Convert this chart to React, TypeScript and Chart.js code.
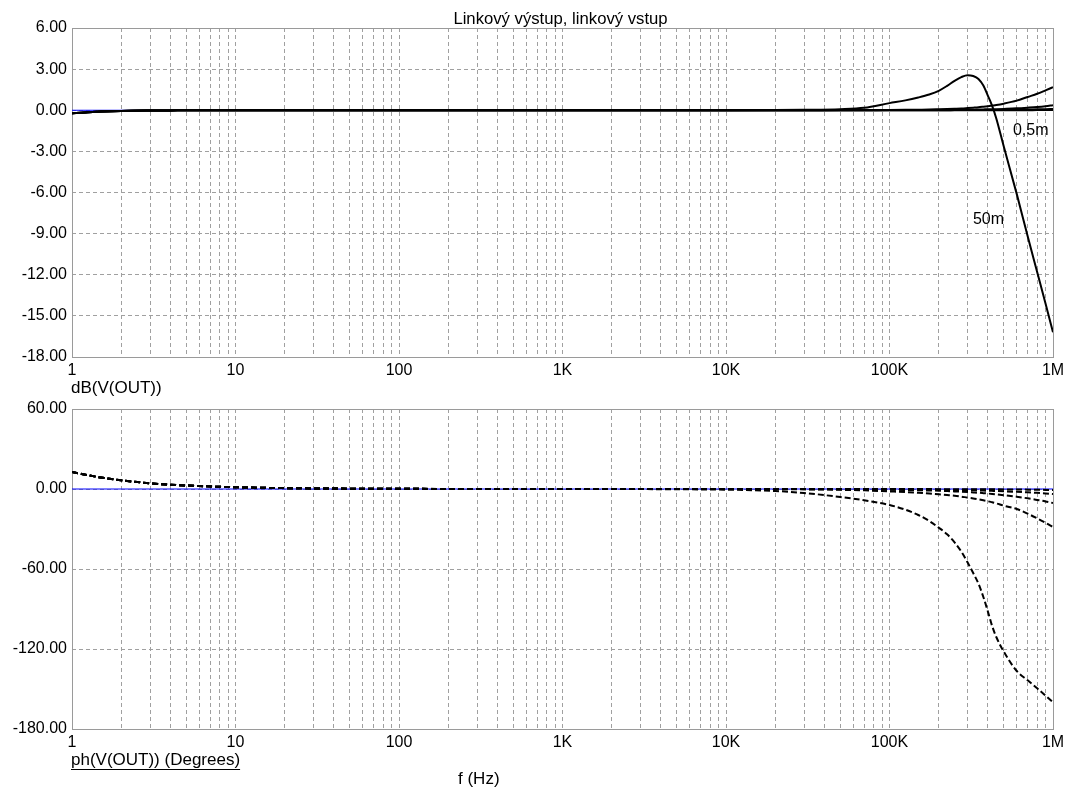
import React, { useEffect, useRef } from 'react';
import { Chart, registerables } from 'chart.js';

Chart.register(...registerables);

// ---------------- data ----------------
const FREQ = [1, 1.5, 2, 3, 4, 6, 10, 20, 50, 100, 1000,
  10000, 20000, 30000, 50000, 70000, 100000, 125000, 150000, 175000, 200000, 225000, 250000, 275000,
  300000, 325000, 350000, 375000, 400000, 425000, 450000, 500000, 600000, 700000, 800000, 900000, 1000000];

// magnitude, dB
const DB_A = [-0.22, -0.1, -0.05, -0.02, -0.01, 0, 0, 0, 0, 0, 0,
  0, 0, 0, 0, 0, 0, 0, 0, 0, 0, 0, 0, 0, 0, 0, 0, 0, 0, 0, 0, 0, 0, 0, 0.01, 0.01, 0.01];
const DB_B = [-0.22, -0.1, -0.05, -0.02, -0.01, 0, 0, 0, 0, 0, 0,
  0, 0, 0, 0, 0, 0, 0, 0, 0, 0, 0, 0.01, 0.01, 0.01, 0.01, 0.01, 0.02, 0.02, 0.02, 0.02, 0.03, 0.04, 0.05, 0.07, 0.08, 0.1];
const DB_C = [-0.22, -0.1, -0.05, -0.02, -0.01, 0, 0, 0, 0, 0, 0,
  0, 0, 0, 0, 0, 0.01, 0.01, 0.01, 0.02, 0.02, 0.02, 0.03, 0.03, 0.04, 0.04, 0.05, 0.06, 0.07, 0.07, 0.08, 0.1, 0.14, 0.19, 0.24, 0.3, 0.37];
const DB_D = [-0.22, -0.1, -0.05, -0.02, -0.01, 0, 0, 0, 0, 0, 0,
  0, 0, 0, 0.01, 0.01, 0.02, 0.03, 0.04, 0.05, 0.07, 0.09, 0.11, 0.13, 0.16, 0.19, 0.22, 0.26, 0.3, 0.34, 0.38, 0.48, 0.7, 0.97, 1.2, 1.45, 1.68];
const DB_E = [-0.22, -0.1, -0.05, -0.02, -0.01, 0, 0, 0, 0, 0, 0,
  0, 0.01, 0.03, 0.08, 0.18, 0.52, 0.72, 0.93, 1.15, 1.42, 1.78, 2.15, 2.42, 2.56, 2.5, 2.28, 1.8, 1.05, 0.3, -0.6, -2.65, -6.1, -9.2, -11.8, -14.1, -16.2];

// phase, degrees
const PH_A = [12.75, 8.6, 6.5, 4.3, 3.2, 2.2, 1.3, 0.65, 0.26, 0.13, 0.01,
  0, 0, 0, 0, 0, -0.05, -0.06, -0.07, -0.08, -0.1, -0.11, -0.12, -0.13, -0.15, -0.16, -0.18, -0.2, -0.22, -0.24, -0.26, -0.3, -0.38, -0.47, -0.57, -0.68, -0.8];
const PH_B = [12.75, 8.6, 6.5, 4.3, 3.2, 2.2, 1.3, 0.65, 0.26, 0.13, 0.01,
  0, 0, -0.05, -0.1, -0.2, -0.3, -0.38, -0.45, -0.52, -0.6, -0.68, -0.75, -0.82, -0.9, -1.0, -1.1, -1.2, -1.3, -1.4, -1.5, -1.7, -2.1, -2.5, -2.9, -3.3, -3.8];
const PH_C = [12.75, 8.6, 6.5, 4.3, 3.2, 2.2, 1.3, 0.65, 0.26, 0.13, 0.01,
  0, -0.05, -0.1, -0.2, -0.35, -0.5, -0.7, -0.9, -1.1, -1.3, -1.55, -1.8, -2.05, -2.3, -2.55, -2.8, -3.1, -3.4, -3.7, -4.0, -4.6, -5.8, -7.0, -8.2, -9.3, -10.5];
const PH_D = [12.75, 8.6, 6.5, 4.3, 3.2, 2.2, 1.3, 0.65, 0.26, 0.13, 0.01,
  -0.05, -0.15, -0.25, -0.6, -1.0, -1.8, -2.3, -2.8, -3.4, -4.0, -4.5, -5.0, -5.7, -6.5, -7.1, -7.8, -8.5, -9.2, -10.0, -10.8, -12.5, -15.0, -18.5, -22.0, -25.3, -28.5];
const PH_E = [12.75, 8.6, 6.5, 4.3, 3.2, 2.2, 1.3, 0.65, 0.26, 0.13, 0.01,
  -0.5, -1.5, -3.0, -6.0, -8.5, -12.0, -15.5, -19.5, -24.0, -29.0, -34.0, -40.0, -47.0, -55.0, -63.0, -71.0, -81.0, -92.0, -103.0, -111.0, -122.0, -136.5, -143.5, -149.5, -155.0, -160.0];

// reference (blue) trace
const REF_FREQ = [1, 1000000];
const REF_DB = [0, 0];
const REF_PH = [0, 0];

// axes
const X_DECADES = [1, 10, 100, 1000, 10000, 100000, 1000000];
const X_TICK_LABELS = ['1', '10', '100', '1K', '10K', '100K', '1M'];
const X_MINOR = [1, 2, 3, 4, 5, 6, 7, 8, 9];
const DB_MIN = -18, DB_MAX = 6, DB_STEP = 3;
const PH_MIN = -180, PH_MAX = 60, PH_STEP = 60;

// texts
const TITLE = 'Linkový výstup, linkový vstup';
const DB_AXIS_TITLE = 'dB(V(OUT))';
const PH_AXIS_TITLE = 'ph(V(OUT)) (Degrees)';
const X_AXIS_TITLE = 'f (Hz)';
const NOTE_TEXT = ['0,5m', '50m'];
const NOTE_F = [569000, 324000];
const NOTE_DB = [-1.83, -8.27];

// ---------------- helpers ----------------
const FONT_FAMILY = '"Liberation Sans", Arial, Helvetica, sans-serif';
const FONT = `16px ${FONT_FAMILY}`;
const TITLE_FONT = `16.7px ${FONT_FAMILY}`;
const AXIS_TITLE_FONT = `17px ${FONT_FAMILY}`;
const GRID_COLOR = '#a0a0a0';
const FRAME_COLOR = '#9a9a9a';

const xGrid: number[] = [];
X_DECADES.forEach((d, i) => {
  if (i === X_DECADES.length - 1) { xGrid.push(d); return; }
  X_MINOR.forEach((m) => xGrid.push(d * m));
});

const pts = (xs: number[], ys: number[]) => xs.map((x, i) => ({ x, y: ys[i] }));

function xScale(height: number) {
  return {
    type: 'logarithmic',
    min: 1,
    max: 1000000,
    afterBuildTicks: (s: any) => { s.ticks = xGrid.map((v) => ({ value: v })); },
    afterFit: (s: any) => { s.height = height; s.paddingLeft = 0; s.paddingRight = 0; },
    grid: { color: GRID_COLOR, lineWidth: 1, drawTicks: false },
    border: { display: false, dash: [4, 3] },
    ticks: {
      autoSkip: false,
      maxRotation: 0,
      minRotation: 0,
      padding: 4,
      color: '#000',
      font: { family: FONT_FAMILY, size: 16 },
      callback: (v: any) => {
        const i = X_DECADES.indexOf(Number(v));
        return i >= 0 ? X_TICK_LABELS[i] : '';
      },
    },
  };
}

function yScale(min: number, max: number, step: number) {
  return {
    type: 'linear',
    min,
    max,
    afterFit: (s: any) => { s.width = 72; },
    grid: { color: GRID_COLOR, lineWidth: 1, drawTicks: false },
    border: { display: false, dash: [4, 3] },
    ticks: {
      stepSize: step,
      padding: 5,
      color: '#000',
      font: { family: FONT_FAMILY, size: 16 },
      callback: (v: any) => Number(v).toFixed(2),
    },
  };
}

const framePlugin = {
  id: 'frame',
  beforeDatasetsDraw(chart: any) {
    const { ctx, chartArea: a } = chart;
    ctx.save();
    ctx.strokeStyle = FRAME_COLOR;
    ctx.lineWidth = 1;
    ctx.strokeRect(a.left + 0.5, a.top + 0.5, a.right - a.left, a.bottom - a.top);
    ctx.restore();
  },
};

function lineDs(xs: number[], ys: number[], color: string, width: number, dash: number[]) {
  return {
    data: pts(xs, ys),
    borderColor: color,
    borderWidth: width,
    borderDash: dash,
    pointRadius: 0,
    fill: false,
    cubicInterpolationMode: 'monotone',
  };
}

export default function App() {
  const topRef = useRef<HTMLCanvasElement | null>(null);
  const botRef = useRef<HTMLCanvasElement | null>(null);

  useEffect(() => {
    const topText = {
      id: 'topText',
      afterDraw(chart: any) {
        const { ctx, chartArea: a, scales } = chart;
        ctx.save();
        ctx.fillStyle = '#000';
        ctx.textBaseline = 'alphabetic';
        ctx.textAlign = 'center';
        ctx.font = TITLE_FONT;
        ctx.fillText(TITLE, (a.left + a.right) / 2 - 2, 24);
        ctx.textAlign = 'left';
        ctx.font = AXIS_TITLE_FONT;
        ctx.fillText(DB_AXIS_TITLE, a.left - 1, 393);
        ctx.font = FONT;
        NOTE_TEXT.forEach((t, i) => {
          ctx.fillText(t, scales.x.getPixelForValue(NOTE_F[i]), scales.y.getPixelForValue(NOTE_DB[i]));
        });
        ctx.restore();
      },
    };
    const botText = {
      id: 'botText',
      afterDraw(chart: any) {
        const { ctx, chartArea: a } = chart;
        ctx.save();
        ctx.fillStyle = '#000';
        ctx.strokeStyle = '#000';
        ctx.font = AXIS_TITLE_FONT;
        ctx.textBaseline = 'alphabetic';
        ctx.textAlign = 'left';
        const x0 = a.left - 1;
        ctx.fillText(PH_AXIS_TITLE, x0, 380);
        const w = ctx.measureText(PH_AXIS_TITLE).width;
        ctx.lineWidth = 1;
        ctx.beginPath();
        ctx.moveTo(x0, 384.5);
        ctx.lineTo(x0 + w, 384.5);
        ctx.stroke();
        ctx.fillText(X_AXIS_TITLE, 458, 399);
        ctx.restore();
      },
    };

    const common = {
      responsive: false,
      animation: false,
      events: [],
      plugins: { legend: { display: false }, tooltip: { enabled: false }, title: { display: false } },
    };

    const top = new Chart(topRef.current as HTMLCanvasElement, {
      type: 'line',
      data: {
        datasets: [
          lineDs(FREQ, DB_E, '#000', 2, []),
          lineDs(FREQ, DB_D, '#000', 2, []),
          lineDs(FREQ, DB_C, '#000', 2, []),
          lineDs(FREQ, DB_B, '#000', 2, []),
          lineDs(FREQ, DB_A, '#000', 2, []),
          lineDs(REF_FREQ, REF_DB, '#0000ff', 1, []),
        ] as any,
      },
      options: {
        ...common,
        layout: { padding: { top: 28, right: 17, left: 0, bottom: 0 } },
        scales: { x: xScale(43) as any, y: yScale(DB_MIN, DB_MAX, DB_STEP) as any },
      } as any,
      plugins: [framePlugin, topText],
    });

    const bot = new Chart(botRef.current as HTMLCanvasElement, {
      type: 'line',
      data: {
        datasets: [
          lineDs(FREQ, PH_E, '#000', 2, [6, 3]),
          lineDs(FREQ, PH_D, '#000', 2, [6, 3]),
          lineDs(FREQ, PH_C, '#000', 2, [6, 3]),
          lineDs(FREQ, PH_B, '#000', 2, [6, 3]),
          lineDs(FREQ, PH_A, '#000', 2, [6, 3]),
          lineDs(REF_FREQ, REF_PH, '#0000ff', 1, []),
        ] as any,
      },
      options: {
        ...common,
        layout: { padding: { top: 24, right: 17, left: 0, bottom: 0 } },
        scales: { x: xScale(63) as any, y: yScale(PH_MIN, PH_MAX, PH_STEP) as any },
      } as any,
      plugins: [framePlugin, botText],
    });

    return () => { top.destroy(); bot.destroy(); };
  }, []);

  return (
    <div style={{ position: 'absolute', left: 0, top: 0, width: 1070, height: 792, background: '#fff' }}>
      <canvas ref={topRef} width={1070} height={400} style={{ position: 'absolute', left: 0, top: 0, width: 1070, height: 400 }} />
      <canvas ref={botRef} width={1070} height={407} style={{ position: 'absolute', left: 0, top: 385, width: 1070, height: 407 }} />
    </div>
  );
}
